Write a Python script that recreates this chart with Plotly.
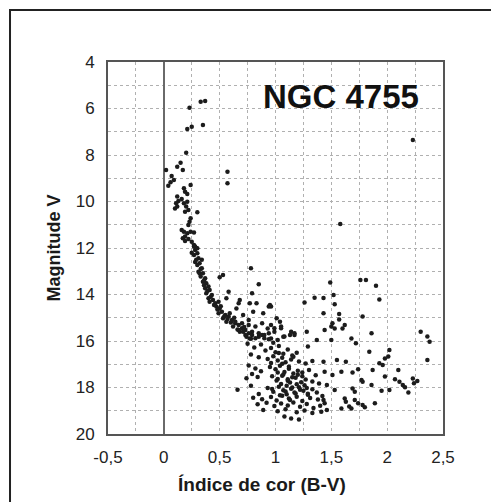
import plotly.graph_objects as go

# ---- data (B-V colour index, V magnitude) ----
upper_bv = [.33,.37,.23,.21,.25,.35,.20,.02,.12,.15,.17,.57,.57,.07,.06,.09,.04,.24,.18,.19,.21,.12,.13,.11,.16,.18,.20,.21,.10,.12,.30,.19,.22,.24,.23,.22,.16,.18,.21,.24,.27,.17,.19,.22,.25,.19,.28,.30,.27]
upper_v = [5.71,5.68,5.97,6.88,6.78,6.71,7.90,8.65,8.50,8.33,8.65,8.72,9.22,8.90,9.17,9.08,9.32,9.29,9.43,9.58,9.68,9.79,9.98,10.08,9.89,10.08,10.22,10.01,10.30,10.22,10.46,10.44,10.37,10.72,10.87,11.01,11.23,11.30,11.37,11.30,11.33,11.58,11.70,11.61,11.73,11.51,11.94,12.01,11.87]

ms_bv = [.27,.28,.30,.27,.31,.32,.30,.34,.31,.35,.33,.37,.35,.38,.40,.37,.41,.38,.43,.40,.44,.41,.46,.49,.47,.50,.52,.49,.55,.53,.58,.56,.61,.64,.62,.67,.70,.68,.73,.76,.74,.79,.82,.85,.88,.90]
ms_v = [11.94,12.09,12.23,12.30,12.44,12.66,12.73,12.87,13.02,13.09,13.23,13.30,13.45,13.52,13.66,13.73,13.81,13.95,14.02,14.16,14.24,14.31,14.38,14.31,14.52,14.60,14.74,14.81,14.88,15.02,14.95,15.17,15.10,15.24,15.38,15.31,15.45,15.60,15.53,15.67,15.82,15.74,15.88,15.82,15.74,15.88]

ms2_bv = [.29,.33,.28,.36,.32,.39,.42,.36,.45,.48,.51,.54,.57,.60,.63,.66,.71,.72,.78,.25,.29,.34]
ms2_v = [12.50,12.90,12.60,13.40,13.10,13.85,14.10,13.60,14.45,14.65,14.50,14.95,15.05,15.20,15.00,15.50,15.60,15.40,15.90,12.20,12.00,12.50]

near_bv = [.78,.85,.79,.53,.50,.58,.56,.68,.67,.77,.83,.80,.95,.96,.94,.89,1.01,1.04,.96,.99,1.05,1.14,1.17,.94,1.07,.71,.76,.65,.59]
near_v = [12.87,13.56,13.95,13.16,13.26,13.88,14.16,14.24,14.38,14.38,14.38,14.74,14.45,14.52,14.52,14.81,15.02,15.17,15.31,15.45,15.45,15.60,15.74,15.67,15.82,14.88,15.10,14.60,14.81]

dense1_bv = [.64,.70,.76,.82,.88,.93,.79,.85,.90,.99,1.05,1.13,1.17,.96,1.02,1.08,.73,.77,.67]
dense1_v = [15.17,15.24,15.31,15.38,15.24,15.46,15.60,15.67,15.74,15.60,15.38,15.74,15.67,15.89,15.96,15.81,15.74,15.89,15.53]
dense2_bv = [.75,.81,.87,.91,.96,1.00,1.03,1.07,1.11,1.15,1.19,.78,.85,.93,.98,1.02,1.06,1.09,1.14,1.21,1.27,1.33]
dense2_v = [16.12,16.28,16.15,16.41,16.30,16.48,16.22,16.55,16.37,16.62,16.50,16.58,16.70,16.77,16.66,16.84,16.72,16.91,16.80,16.88,16.97,16.86]
dense3_bv = [.76,.82,.79,.87,.95,1.00,1.04,1.08,1.12,1.16,1.20,1.24,1.30,1.36,.74,.84,.97,1.02,1.07,1.11,1.18,1.23,1.27,1.33,1.39]
dense3_v = [17.05,17.18,17.42,17.30,17.12,17.22,17.06,17.33,17.19,17.40,17.28,17.36,17.25,17.47,17.60,17.55,17.52,17.63,17.44,17.71,17.58,17.77,17.66,17.74,17.83]
dense4_bv = [.66,.78,.85,.93,.98,1.03,1.07,1.10,1.14,1.17,1.21,1.25,1.29,1.33,1.37,1.42,.80,.88,.96,1.01,1.06,1.12,1.19,1.24,1.31,1.38]
dense4_v = [18.10,17.93,18.28,18.02,18.18,17.97,18.12,18.29,18.05,18.21,17.99,18.14,18.31,18.08,18.22,18.37,18.44,18.50,18.41,18.56,18.35,18.47,18.40,18.58,18.45,18.52]
dense5_bv = [.84,.92,.99,1.05,1.11,1.16,1.22,1.28,1.34,1.40,.89,1.02,1.09,1.19,1.26,1.33,1.08,1.14,1.21]
dense5_v = [18.72,18.66,18.80,18.69,18.77,18.64,18.83,18.71,18.88,18.79,18.97,19.02,18.94,19.06,18.99,19.10,19.25,19.33,19.38]
core_bv = [1.05,1.10,1.15,1.09,1.18,1.13,1.22,1.26,1.01,.97,1.04,1.13,1.29,1.06,1.15,1.20,1.02,.96,1.06,1.12,1.16,1.03,.98,.94,1.24,1.28,1.11,1.19]
core_v = [17.85,17.92,18.00,18.17,18.26,17.79,18.10,17.90,17.70,18.06,18.33,18.54,18.27,17.49,17.56,17.45,17.36,16.95,16.98,17.11,16.68,16.52,16.08,15.92,17.52,18.02,17.64,17.86]

field_bv = [2.23,1.58,1.49,1.76,1.81,1.90,1.93,1.26,1.35,1.43,1.52,1.53,
            1.43,1.57,1.57,1.78,1.51,1.50,1.53,1.62,1.60,1.44,1.86,1.50,1.37,1.68,1.72,1.28,1.29,
            2.30,2.36,2.38,1.84,2.02,2.01,1.98,2.36,1.43,1.55,1.63,1.93,1.96,
            1.44,1.59,1.69,1.74,1.87,2.10,1.51,1.98,1.77,1.78,2.07,2.11,2.14,2.16,2.19,2.23,2.27,2.24,
            1.46,1.53,1.86,1.95,2.02,1.69,1.71,1.43,1.44,1.62,1.63,1.66,1.68,1.71,1.74,1.78,1.80,1.89,1.59,1.41,1.46]
field_v = [7.35,10.97,13.48,13.38,13.38,13.62,14.21,14.34,14.14,14.15,14.02,14.42,
           14.81,14.84,15.07,14.95,15.24,15.38,15.46,15.31,15.46,15.53,15.67,15.96,15.96,15.89,16.10,15.60,16.24,
           15.60,15.81,16.03,16.46,16.39,16.67,16.75,16.82,16.89,16.82,16.89,16.96,17.03,
           17.32,17.32,17.36,17.22,17.25,17.25,17.46,17.53,17.68,17.75,17.65,17.75,17.89,17.99,18.22,17.61,17.72,17.82,
           17.89,18.11,17.89,18.14,18.11,18.04,18.18,18.54,18.68,18.47,18.61,18.82,18.90,18.54,18.68,18.75,18.85,18.68,18.90,19.04,18.97]

x_tickvals = [-0.5, 0, 0.5, 1, 1.5, 2, 2.5]
x_ticktext = ["-0,5", "0", "0,5", "1", "1,5", "2", "2,5"]
y_tickvals = [4, 6, 8, 10, 12, 14, 16, 18, 20]
y_ticktext = ["4", "6", "8", "10", "12", "14", "16", "18", "20"]

all_bv = (upper_bv + ms_bv + ms2_bv + near_bv + dense1_bv + dense2_bv + dense3_bv
          + dense4_bv + dense5_bv + core_bv + field_bv)
all_v = (upper_v + ms_v + ms2_v + near_v + dense1_v + dense2_v + dense3_v
         + dense4_v + dense5_v + core_v + field_v)

FONT = "Liberation Sans, Arial, sans-serif"

fig = go.Figure(go.Scatter(
    x=all_bv, y=all_v, mode="markers",
    marker=dict(size=4.5, color="#1c1c1c"),
    hoverinfo="skip", showlegend=False))

grid = dict(showgrid=True, gridcolor="#b0b0b0", griddash="dot", gridwidth=1)

fig.update_layout(
    width=491, height=502,
    margin=dict(l=108, r=48, t=62, b=68),
    paper_bgcolor="white", plot_bgcolor="white",
    font=dict(family=FONT, color="#1a1a1a"),
    xaxis=dict(
        range=[-0.5, 2.5], tickmode="array", tickvals=x_tickvals, ticktext=x_ticktext,
        ticks="", tickfont=dict(size=17, color="#222"), ticklabelstandoff=7,
        **grid,
        minor=dict(dtick=0.25, tick0=0, showgrid=True, gridcolor="#b0b0b0", griddash="dot", ticks=""),
        zeroline=True, zerolinecolor="#6a6a6a", zerolinewidth=2,
        showline=True, mirror=True, linecolor="#555", linewidth=2,
    ),
    yaxis=dict(
        range=[20, 4], tickmode="array", tickvals=y_tickvals, ticktext=y_ticktext,
        ticks="", tickfont=dict(size=17, color="#222"), ticklabelstandoff=8,
        **grid,
        minor=dict(dtick=1, tick0=0, showgrid=True, gridcolor="#b0b0b0", griddash="dot", ticks=""),
        zeroline=False,
        showline=True, mirror=True, linecolor="#555", linewidth=2,
        title=dict(text="Magnitude V", font=dict(size=18, weight="bold", color="#1a1a1a"), standoff=10),
    ),
    annotations=[
        dict(text="NGC 4755", x=1.59, y=5.5, xref="x", yref="y", showarrow=False,
             font=dict(size=33, weight="bold", color="#111", family=FONT)),
        dict(text="Índice de cor (B-V)", x=0.46, y=-0.137, xref="paper", yref="paper",
             xanchor="center", yanchor="middle", showarrow=False,
             font=dict(size=19, weight="bold", color="#1a1a1a", family=FONT)),
    ],
    shapes=[dict(type="rect", xref="paper", yref="paper",
                 x0=-0.2925, y0=-0.25, x1=1.25, y1=1.1398,
                 line=dict(color="#222", width=2), layer="below")],
)

fig.write_html("out.html")
